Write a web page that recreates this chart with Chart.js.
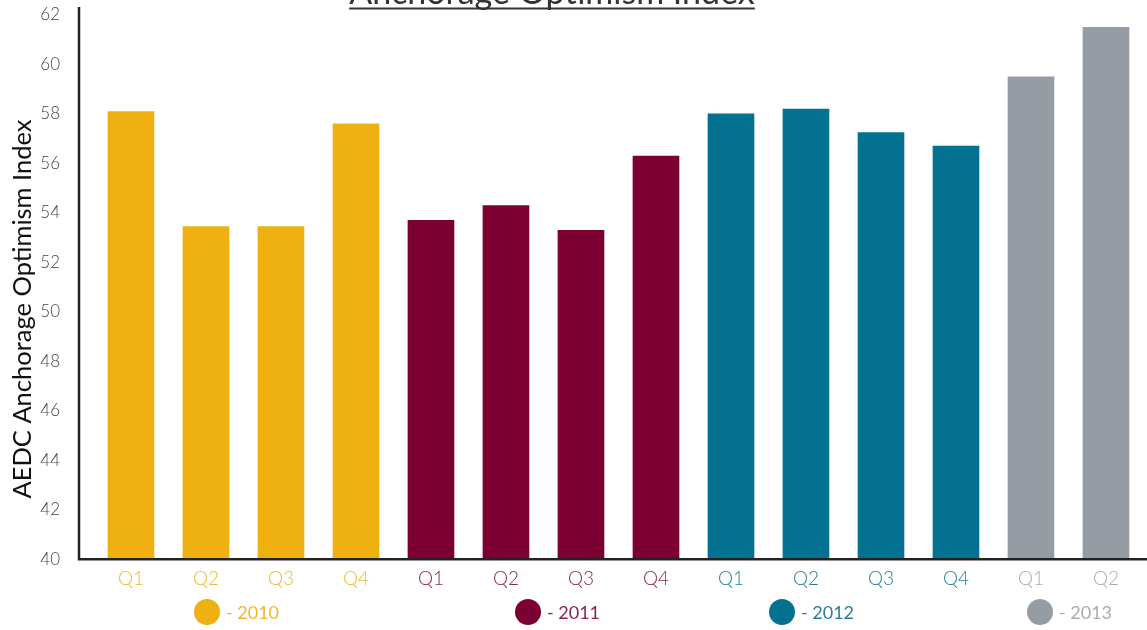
<!DOCTYPE html>
<html>
<head>
<meta charset="utf-8">
<script src="https://cdn.jsdelivr.net/npm/chart.js@4.4.1/dist/chart.umd.min.js"></script>
<style>
  html, body { margin: 0; padding: 0; background: #ffffff; }
  #wrap { width: 1147px; height: 630px; position: relative; }
</style>
</head>
<body>
<div id="wrap"><canvas id="c"></canvas></div>
<script>
// ---- data ----
const chartTitle = 'Anchorage Optimism Index';
const yAxisTitle = 'AEDC Anchorage Optimism Index';
const years = ['2010', '2011', '2012', '2013'];
const quarters2010 = ['Q1', 'Q2', 'Q3', 'Q4'];
const quarters2011 = ['Q1', 'Q2', 'Q3', 'Q4'];
const quarters2012 = ['Q1', 'Q2', 'Q3', 'Q4'];
const quarters2013 = ['Q1', 'Q2'];
const values2010 = [58.1, 53.45, 53.45, 57.6];
const values2011 = [53.7, 54.3, 53.3, 56.3];
const values2012 = [58.0, 58.2, 57.25, 56.7];
const values2013 = [59.5, 61.5];
const yMin = 40, yMax = 62, yStep = 2;

// ---- style ----
const barColors = ['#EEB111', '#7D0033', '#03718F', '#969CA3'];
const labelColors = ['#F0B830', '#8E2255', '#2A7F98', '#A8ACB1'];
const FONT = 'Lato, "Open Sans", sans-serif';

const quarterGroups = [quarters2010, quarters2011, quarters2012, quarters2013];
const valueGroups = [values2010, values2011, values2012, values2013];

const categoryLabels = [];
const categoryYear = [];
quarterGroups.forEach((qs, yi) => qs.forEach(q => { categoryLabels.push(q); categoryYear.push(yi); }));

let idx = 0;
const datasets = years.map((yr, yi) => {
  const data = valueGroups[yi].map(v => ({ x: idx++, y: v }));
  return {
    label: '- ' + yr,
    data,
    backgroundColor: barColors[yi],
    borderWidth: 0,
    barThickness: 46,
    grouped: false
  };
});

const decorPlugin = {
  id: 'decor',
  afterDatasetsDraw(chart) {
    const { ctx, chartArea } = chart;
    ctx.save();
    ctx.strokeStyle = '#222222';
    ctx.lineWidth = 2.5;
    ctx.beginPath();
    ctx.moveTo(chartArea.left, 7);
    ctx.lineTo(chartArea.left, chartArea.bottom);
    ctx.lineTo(chart.width, chartArea.bottom);
    ctx.stroke();
    ctx.restore();
  },
  afterDraw(chart) {
    const { ctx } = chart;
    ctx.save();
    // title, partly cut off at the top, underlined
    ctx.font = '34px ' + FONT;
    ctx.fillStyle = '#333333';
    ctx.textAlign = 'center';
    ctx.textBaseline = 'alphabetic';
    const tx = 552, ty = 4;
    ctx.fillText(chartTitle, tx, ty);
    const w = ctx.measureText(chartTitle).width;
    ctx.strokeStyle = '#333333';
    ctx.lineWidth = 2;
    ctx.beginPath();
    ctx.moveTo(tx - w / 2, 8.5);
    ctx.lineTo(tx + w / 2, 8.5);
    ctx.stroke();

    // y axis title
    ctx.save();
    ctx.translate(23, 309);
    ctx.rotate(-Math.PI / 2);
    ctx.font = '25.5px ' + FONT;
    ctx.fillStyle = '#111111';
    ctx.textAlign = 'center';
    ctx.textBaseline = 'middle';
    ctx.fillText(yAxisTitle, 0, 0);
    ctx.restore();

    // legend
    const legendX = [207, 528, 782, 1040];
    const legendY = 612;
    ctx.textAlign = 'left';
    ctx.textBaseline = 'middle';
    ctx.font = '18px ' + FONT;
    years.forEach((yr, i) => {
      ctx.fillStyle = barColors[i];
      ctx.beginPath();
      ctx.arc(legendX[i], legendY, 13, 0, Math.PI * 2);
      ctx.fill();
      ctx.fillStyle = labelColors[i];
      ctx.fillText(chart.data.datasets[i].label, legendX[i] + 19, legendY + 1);
    });
    ctx.restore();
  }
};

new Chart(document.getElementById('c'), {
  type: 'bar',
  data: { datasets },
  options: {
    responsive: true,
    maintainAspectRatio: false,
    animation: false,
    layout: { padding: { left: 0, right: 0, top: 15, bottom: 40 } },
    plugins: {
      legend: { display: false },
      tooltip: { enabled: false },
      title: { display: false }
    },
    scales: {
      x: {
        type: 'linear',
        offset: false,
        min: -0.693,
        max: categoryLabels.length - 1 + 0.547,
        grid: { display: false },
        border: { display: false },
        afterBuildTicks: (scale) => {
          scale.ticks = categoryLabels.map((_, i) => ({ value: i }));
        },
        ticks: {
          autoSkip: false,
          maxRotation: 0,
          padding: 0,
          font: { family: FONT, size: 19, weight: 300 },
          color: (c) => labelColors[categoryYear[c.tick.value]] || '#888',
          callback: (v) => categoryLabels[v]
        }
      },
      y: {
        min: yMin,
        max: yMax,
        afterFit: (scale) => { scale.width = 79; scale.paddingTop = 0; scale.paddingBottom = 0; },
        grid: { display: false },
        border: { display: false },
        ticks: {
          stepSize: yStep,
          padding: 11,
          font: { family: FONT, size: 17, weight: 300 },
          color: '#444444'
        },
        title: { display: false }
      }
    }
  },
  plugins: [decorPlugin]
});
</script>
</body>
</html>
